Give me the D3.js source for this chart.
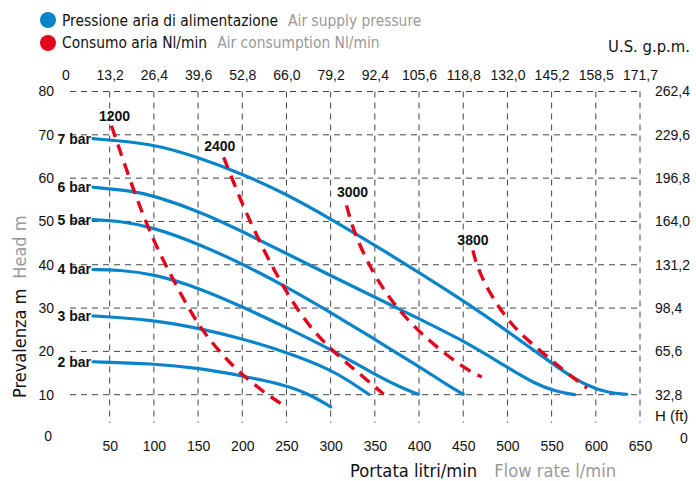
<!DOCTYPE html>
<html><head><meta charset="utf-8">
<script src="https://cdn.jsdelivr.net/npm/d3@7"></script>
<style>
html,body{margin:0;padding:0;background:#fff;}
svg{display:block;}
</style></head>
<body>
<svg id="chart" width="696" height="481"></svg>
<script>
// ---------- DATA ----------
const flowTicks = [50,100,150,200,250,300,350,400,450,500,550,600,650];
const gpmTicks = [0,50,100,150,200,250,300,350,400,450,500,550,600,650];
const gpmLabels = ["0","13,2","26,4","39,6","52,8","66,0","79,2","92,4","105,6","118,8","132,0","145,2","158,5","171,7"];
const headTicks = [0,10,20,30,40,50,60,70,80];
const ftTicks = [10,20,30,40,50,60,70,80];
const ftLabels = ["32,8","65,6","98,4","131,2","164,0","196,8","229,6","262,4"];

const pressureNames = ["2 bar","3 bar","4 bar","5 bar","6 bar","7 bar"];
const bar2 = [[31,17.6],[99,17.2],[152,16.1],[199,14.4],[249,12.2],[275,10.2],[300,7.2]];
const bar3 = [[31,28.2],[99,27.3],[152,25.3],[199,23.0],[249,19.9],[300,15.8],[322,13.0],[343,10.1]];
const bar4 = [[31,38.9],[60,38.8],[99,37.9],[148,34.9],[199,30.4],[249,25.6],[300,20.5],[348,14.9],[380,11.6],[399,10.1]];
const bar5 = [[31,50.4],[58,50.2],[99,48.7],[152,44.7],[199,40.3],[250,34.9],[299,29.1],[348,23.0],[401,16.4],[430,12.5],[450,10.1]];
const bar6 = [[31,57.9],[76,57.0],[99,56.0],[152,52.3],[201,47.6],[250,42.6],[299,37.6],[371,30.4],[450,22.6],[499,16.4],[530,12.6],[555,10.7],[576,10.0]];
const bar7 = [[31,69.1],[99,68.0],[150,64.8],[200,61.0],[250,56.3],[299,50.7],[356,43.8],[450,31.8],[499,24.8],[540,18.8],[563,15.4],[590,12.0],[615,10.4],[635,10.1]];
const pressureSeries = [bar2,bar3,bar4,bar5,bar6,bar7];

const consumptionNames = ["1200","2400","3000","3800"];
const cons1200 = [[52,72.1],[77,57.1],[99,45.6],[126,34.9],[152,25.2],[186,17.2],[207,13.4],[231,9.6],[248,7.4]];
const cons2400 = [[179,64.8],[201,53.3],[228,41.8],[252,32.8],[280,24.5],[312,18.3],[333,14.8],[360,10.1]];
const cons3000 = [[318,53.7],[326,47.5],[348,37.9],[371,31.0],[401,24.1],[450,16.1],[471,14.1]];
const cons3800 = [[461,43.3],[465,39.9],[478,34.1],[495,28.7],[514,24.1],[541,19.5],[563,15.7],[590,11.5]];
const consumptionSeries = [cons1200,cons2400,cons3000,cons3800];

// ---------- DRAW ----------
const BLUE = "#0a84c9", RED = "#e3051b", GREY = "#9a9a9a", GRID = "#444";
const numFont = "'Liberation Sans', Arial, sans-serif";
const txtFont = "'DejaVu Sans Condensed', 'Liberation Sans Narrow', sans-serif";

const svg = d3.select("#chart");
const x = d3.scaleLinear().domain([0,650]).range([65.5,640]);
const y = d3.scaleLinear().domain([0,80]).range([438,91.5]);

// grid
const g = svg.append("g");
g.selectAll(".hg").data(ftTicks).join("line")
  .attr("x1", 70).attr("x2", x(650))
  .attr("y1", d=>y(d)).attr("y2", d=>y(d))
  .attr("stroke", GRID).attr("stroke-width",1).attr("stroke-dasharray","6,5");
g.selectAll(".vg").data(flowTicks).join("line")
  .attr("x1", d=>x(d)).attr("x2", d=>x(d))
  .attr("y1", y(80)).attr("y2", y(3.5))
  .attr("stroke", GRID).attr("stroke-width",1).attr("stroke-dasharray","6,5");

// bottom axis labels
const bottomAxis = d3.axisBottom(x).tickValues(flowTicks).tickSize(0).tickPadding(0);
const ba = svg.append("g").attr("transform","translate(0,439)").call(bottomAxis);
ba.select(".domain").remove();
ba.selectAll("text").attr("font-family",numFont).attr("font-size",14).attr("fill","#111").attr("dy","0.85em");

// top axis labels
const topAxis = d3.axisTop(x).tickValues(gpmTicks).tickFormat((d,i)=>gpmLabels[i]).tickSize(0).tickPadding(0);
const ta = svg.append("g").attr("transform","translate(0,80)").call(topAxis);
ta.select(".domain").remove();
ta.selectAll("text").attr("font-family",numFont).attr("font-size",14).attr("fill","#111");

// left axis
const leftAxis = d3.axisLeft(y).tickValues(headTicks).tickSize(0).tickPadding(0);
const la = svg.append("g").attr("transform","translate(54,0)").call(leftAxis);
la.select(".domain").remove();
la.selectAll("text").attr("font-family",numFont).attr("font-size",14).attr("fill","#111");
la.selectAll(".tick").filter(d=>d===0).select("text").attr("transform","translate(-2,-2)");

// right axis
const rightAxis = d3.axisRight(y).tickValues(ftTicks).tickFormat((d,i)=>ftLabels[i]).tickSize(0).tickPadding(0);
const ra = svg.append("g").attr("transform","translate(655,0)").call(rightAxis);
ra.select(".domain").remove();
ra.selectAll("text").attr("font-family",numFont).attr("font-size",14).attr("fill","#111");
svg.append("text").attr("x",655).attr("y",y(5)+5).text("H (ft)")
  .attr("font-family",numFont).attr("font-size",15).attr("fill","#111");
svg.append("text").attr("x",684).attr("y",y(0)+1).attr("text-anchor","middle").text("0")
  .attr("font-family",numFont).attr("font-size",14).attr("fill","#111").attr("dy","0.32em");

// curves
const line = d3.line().x(d=>x(d[0])).y(d=>y(d[1])).curve(d3.curveBasis);

svg.append("g").selectAll("path").data(pressureSeries).join("path")
  .attr("d", line).attr("fill","none").attr("stroke",BLUE).attr("stroke-width",3.2).attr("stroke-linecap","round");

svg.append("g").selectAll("text").data(pressureSeries).join("text")
  .attr("x", 91).attr("y", d=>y(d[0][1])).attr("dy","0.35em").attr("text-anchor","end")
  .text((d,i)=>pressureNames[i])
  .attr("font-family",numFont).attr("font-weight","bold").attr("font-size",14).attr("fill","#111");

svg.append("g").selectAll("path").data(consumptionSeries).join("path")
  .attr("d", line).attr("fill","none").attr("stroke",RED).attr("stroke-width",3.4)
  .attr("stroke-dasharray","12,8");

const labOff = [[3,-10],[-4,-11],[6,-13],[0,-10]];
svg.append("g").selectAll("text").data(consumptionSeries).join("text")
  .attr("x", (d,i)=>x(d[0][0])+labOff[i][0]).attr("y", (d,i)=>y(d[0][1])+labOff[i][1])
  .attr("text-anchor","middle").attr("dy","0.35em")
  .text((d,i)=>consumptionNames[i])
  .attr("font-family",numFont).attr("font-weight","bold").attr("font-size",14).attr("fill","#111");

// legend
function twoPart(xp, yp, a, b, size, gap){
  const t = svg.append("text").attr("x",xp).attr("y",yp)
    .attr("font-family",txtFont).attr("font-size",size);
  t.append("tspan").attr("fill","#111").text(a);
  t.append("tspan").attr("fill",GREY).attr("dx",gap).text(b);
  return t;
}
svg.append("circle").attr("cx",48).attr("cy",20).attr("r",8).attr("fill",BLUE);
svg.append("circle").attr("cx",48).attr("cy",43).attr("r",8).attr("fill",RED);
twoPart(62,26,"Pressione aria di alimentazione","Air supply pressure",15.4,10);
twoPart(62,48,"Consumo aria Nl/min","Air consumption Nl/min",15.4,10);

// axis titles
twoPart(350,477,"Portata litri/min","Flow rate l/min",18.2,17);
svg.append("text").attr("x",690).attr("y",52).attr("text-anchor","end")
  .attr("font-family",txtFont).attr("font-size",16.5).attr("fill","#111").text("U.S. g.p.m.");
const yt = twoPart(0,0,"Prevalenza m","Head m",18,10);
yt.attr("transform","translate(26,398) rotate(-90)");
</script>
</body></html>
